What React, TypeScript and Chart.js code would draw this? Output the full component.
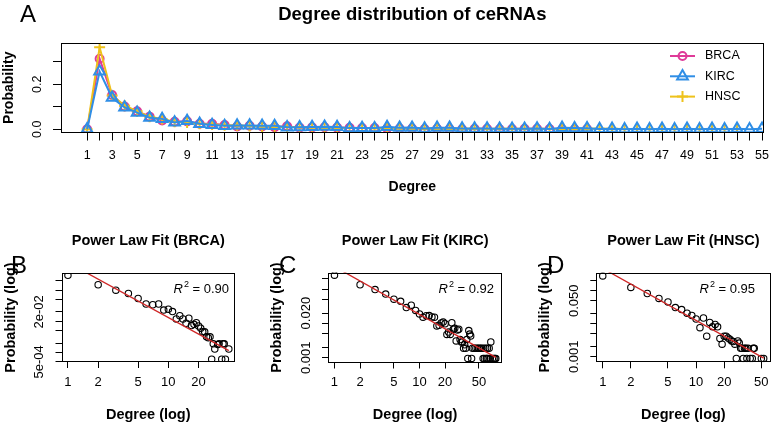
import { useEffect, useRef } from 'react';
import { Chart, registerables } from 'chart.js';

Chart.register(...registerables);

const FONT = '"Liberation Sans", Arial, Helvetica, sans-serif';
const CW = 777;
const CH = 425;

// ---------------- Panel A data ----------------
const seriesNames = ['BRCA', 'KIRC', 'HNSC'];
const degreesA = [1, 2, 3, 4, 5, 6, 7, 8, 9, 10, 11, 12, 13, 14, 15, 16, 17, 18, 19, 20, 21, 22, 23, 24, 25, 26, 27, 28, 29, 30, 31, 32, 33, 34, 35, 36, 37, 38, 39, 40, 41, 42, 43, 44, 45, 46, 47, 48, 49, 50, 51, 52, 53, 54, 55];
const brcaA = [
  0, 0.314, 0.152, 0.101, 0.080, 0.056, 0.039, 0.033, 0.035, 0.024,
  0.024, 0.019, 0.012, 0.015, 0.012, 0.009, 0.013, 0.007, 0.008, 0.009,
  0.007, 0.006, 0.005, 0.005, 0.003, 0.003, 0.003, 0.001, 0.002, 0.001,
  0, 0.002, 0.002, 0, 0.001, 0.002, 0.002, 0.001, 0, 0,
  0.001,
];
const kircA = [
  0, 0.257, 0.140, 0.097, 0.074, 0.051, 0.046, 0.030, 0.037, 0.024,
  0.019, 0.015, 0.017, 0.017, 0.0155, 0.015, 0.0085, 0.0088, 0.010, 0.011,
  0.0098, 0.0048, 0.0056, 0.0048, 0.0105, 0.0068, 0.0072, 0.003, 0.0065, 0.0068,
  0.0034, 0.0029, 0.0029, 0.0019, 0.0024, 0.0019, 0.0034, 0.001, 0.0062, 0.0049,
  0.0043, 0.001, 0.0019, 0, 0.0019, 0, 0.0019, 0, 0.0019, 0,
  0.0019, 0, 0.0019, 0, 0.0019,
];
const hnscA = [
  0, 0.365, 0.150, 0.105, 0.080, 0.055, 0.045, 0.033, 0.030, 0.024,
  0.021, 0.018, 0.016, 0.014, 0.012, 0.011, 0.010, 0.009, 0.008, 0.007,
  0.006, 0.005, 0.005, 0.004, 0.004, 0.003, 0.003, 0.002, 0.003, 0.002,
  0.002, 0.002, 0.001, 0.002, 0.002, 0.001, 0.002, 0.001, 0.001, 0.001,
  0.002, 0.002, 0.002, 0.001, 0.001, 0.001, 0.001, 0.001, 0.001, 0.001,
  0.001, 0.001, 0.001,
];
const yTicksA = [0, 0.1, 0.2, 0.3];
const yLabelsA = ['0.0', '', '0.2', ''];

// ---------------- Panels B-D data ----------------
const brcaDeg = [1, 2, 3, 4, 5, 6, 7, 8, 9, 10, 11, 12, 13, 14, 15, 16, 17, 18, 19, 20, 21, 22, 23, 24, 25, 26, 27, 28, 29, 31, 32, 34, 35, 36, 37, 40];
const brcaProb = [0.298, 0.149, 0.100, 0.078, 0.054, 0.036, 0.034, 0.036, 0.023, 0.0245, 0.0206, 0.0119, 0.0152, 0.0119, 0.0087, 0.0126, 0.0073, 0.0080, 0.0090, 0.0071, 0.0060, 0.0046, 0.0046, 0.0032, 0.0030, 0.0032, 0.00061, 0.0019, 0.0013, 0.0018, 0.0019, 0.00061, 0.0019, 0.0019, 0.00061, 0.0013];

const kircDeg = [1, 2, 3, 4, 5, 6, 7, 8, 9, 10, 11, 12, 13, 14, 15, 16, 17, 18, 19, 20, 21, 22, 23, 24, 25, 26, 27, 28, 29, 30, 31, 32, 33, 34, 35, 36, 37, 38, 39, 40, 41, 42, 44, 46, 48, 50, 52, 54, 56, 57, 58, 60, 61, 62, 63, 64, 66, 68, 69, 72, 75, 77, 79];
const kircProb = [0.255, 0.134, 0.097, 0.072, 0.051, 0.044, 0.029, 0.034, 0.024, 0.019, 0.0152, 0.0168, 0.017, 0.0155, 0.0152, 0.0085, 0.0088, 0.0104, 0.011, 0.0098, 0.0048, 0.0056, 0.0048, 0.0105, 0.0068, 0.0072, 0.0031, 0.0065, 0.0068, 0.0034, 0.0029, 0.0029, 0.0019, 0.0024, 0.0019, 0.0034, 0.00096, 0.0062, 0.0049, 0.0043, 0.00096, 0.0019, 0.0019, 0.0019, 0.0019, 0.0019, 0.0019, 0.0019, 0.00096, 0.0019, 0.00096, 0.0019, 0.00096, 0.00096, 0.0019, 0.00096, 0.0019, 0.00096, 0.0029, 0.00096, 0.00096, 0.00096, 0.00096];

const hnscDeg = [1, 2, 3, 4, 5, 6, 7, 8, 9, 10, 11, 12, 13, 14, 15, 16, 17, 18, 19, 20, 21, 22, 23, 24, 25, 26, 27, 28, 29, 30, 31, 32, 33, 34, 35, 36, 38, 40, 41, 42, 50, 53];
const hnscProb = [0.285, 0.127, 0.083, 0.059, 0.046, 0.031, 0.027, 0.021, 0.018, 0.014, 0.0076, 0.015, 0.0042, 0.011, 0.0081, 0.0095, 0.0081, 0.0036, 0.0024, 0.0042, 0.0042, 0.0037, 0.0034, 0.0030, 0.0029, 0.0024, 0.00089, 0.0030, 0.0026, 0.0018, 0.0018, 0.00089, 0.0018, 0.0018, 0.00089, 0.0018, 0.00089, 0.00089, 0.0018, 0.0018, 0.00089, 0.00089];

const fitBDeg = [1, 40];
const fitBProb = [0.764, 0.00115];
const fitCDeg = [1, 79];
const fitCProb = [0.453, 0.00103];
const fitDDeg = [1, 53];
const fitDProb = [0.48, 0.00091];
const r2Values = ['0.90', '0.92', '0.95'];

const logXTicksB = [1, 2, 5, 10, 20];
const logXTicksCD = [1, 2, 5, 10, 20, 50];
const logYTicksB = [5e-4, 1e-3, 2e-3, 5e-3, 1e-2, 2e-2, 5e-2, 1e-1, 2e-1];
const logYLabelsB = ['5e-04', '', '', '', '', '2e-02', '', '', ''];
const logYTicksCD = [1e-3, 2e-3, 5e-3, 1e-2, 2e-2, 5e-2, 1e-1, 2e-1];
const logYLabelsC = ['0.001', '', '', '', '0.020', '', '', ''];
const logYLabelsD = ['0.001', '', '', '', '', '0.050', '', ''];

const COL = { brca: '#DF3A98', kirc: '#2F8EE6', hnsc: '#EEC21B', fit: '#CF2626' };

type Box = { left: number; top: number; right: number; bottom: number };

function drawMarker(ctx: CanvasRenderingContext2D, style: string, x: number, y: number, r: number) {
  ctx.beginPath();
  if (style === 'circle') {
    ctx.arc(x, y, r, 0, Math.PI * 2);
  } else if (style === 'triangle') {
    ctx.moveTo(x, y - r);
    ctx.lineTo(x + r * Math.sin(Math.PI * 2 / 3), y + r / 2);
    ctx.lineTo(x - r * Math.sin(Math.PI * 2 / 3), y + r / 2);
    ctx.closePath();
  } else {
    ctx.moveTo(x - r, y);
    ctx.lineTo(x + r, y);
    ctx.moveTo(x, y - r);
    ctx.lineTo(x, y + r);
  }
  ctx.stroke();
}

function makeDeco(cfg: any) {
  return {
    id: 'deco' + cfg.key,
    afterDraw(chart: any) {
      const { ctx, chartArea: ca } = chart;
      const yScale = chart.scales.y;
      ctx.save();
      // plot box
      ctx.strokeStyle = '#000';
      ctx.lineWidth = 1;
      const l = Math.round(ca.left) + 0.5;
      const t = Math.round(ca.top) + 0.5;
      const r = Math.round(ca.right) - 0.5;
      const b = Math.round(ca.bottom) - 0.5;
      ctx.strokeRect(l, t, r - l, b - t);

      ctx.fillStyle = '#000';
      // rotated y tick labels
      ctx.font = `${cfg.tickSize}px ${FONT}`;
      ctx.textAlign = 'center';
      ctx.textBaseline = 'middle';
      cfg.yTicks.forEach((v: number, i: number) => {
        const lab = cfg.yLabels[i];
        if (!lab) return;
        const py = yScale.getPixelForValue(v);
        ctx.save();
        ctx.translate(ca.left - cfg.yLabelOffset, py);
        ctx.rotate(-Math.PI / 2);
        ctx.fillText(lab, 0, 0);
        ctx.restore();
      });

      // panel letter
      ctx.textAlign = 'left';
      ctx.textBaseline = 'alphabetic';
      ctx.font = `24px ${FONT}`;
      ctx.fillText(cfg.letter, cfg.letterX, cfg.letterY);

      // title
      ctx.textAlign = 'center';
      ctx.font = `bold ${cfg.titleSize}px ${FONT}`;
      ctx.fillText(cfg.title, (ca.left + ca.right) / 2, cfg.titleY);

      // x title
      ctx.font = `bold ${cfg.axisTitleSize}px ${FONT}`;
      ctx.fillText(cfg.xTitle, (ca.left + ca.right) / 2, cfg.xTitleY);

      // y title
      ctx.save();
      ctx.translate(ca.left - cfg.yTitleOffset, (ca.top + ca.bottom) / 2);
      ctx.rotate(-Math.PI / 2);
      ctx.textBaseline = 'middle';
      ctx.fillText(cfg.yTitle, 0, 0);
      ctx.restore();

      // R^2 annotation
      if (cfg.r2) {
        const fs = 13;
        ctx.textAlign = 'left';
        ctx.textBaseline = 'alphabetic';
        const fR = `italic ${fs}px ${FONT}`;
        const f2 = `${Math.round(fs * 0.7)}px ${FONT}`;
        const fN = `${fs}px ${FONT}`;
        const rest = ' = ' + cfg.r2;
        ctx.font = fR;
        const wR = ctx.measureText('R').width;
        ctx.font = f2;
        const w2 = ctx.measureText('2').width;
        ctx.font = fN;
        const wN = ctx.measureText(rest).width;
        let x = cfg.r2Right - (wR + w2 + 1 + wN);
        const y = cfg.r2Y;
        ctx.font = fR;
        ctx.fillText('R', x, y);
        x += wR + 1;
        ctx.font = f2;
        ctx.fillText('2', x, y - fs * 0.42);
        x += w2;
        ctx.font = fN;
        ctx.fillText(rest, x, y);
      }

      // legend (panel A)
      if (cfg.legend) {
        const lg = cfg.legend;
        chart.data.datasets.forEach((ds: any, i: number) => {
          const y = lg.y0 + i * lg.dy;
          ctx.strokeStyle = ds.borderColor;
          ctx.lineWidth = 2;
          ctx.beginPath();
          ctx.moveTo(lg.x0, y);
          ctx.lineTo(lg.x1, y);
          ctx.stroke();
          drawMarker(ctx, ds.pointStyle, (lg.x0 + lg.x1) / 2, y, ds.pointRadius);
          ctx.fillStyle = '#000';
          ctx.font = `${lg.size}px ${FONT}`;
          ctx.textAlign = 'left';
          ctx.textBaseline = 'middle';
          ctx.fillText(ds.label, lg.tx, y);
        });
      }
      ctx.restore();
    },
  };
}

function padFor(box: Box, yW: number, xH: number) {
  return { left: box.left - yW, top: box.top, right: CW - box.right, bottom: CH - box.bottom - xH };
}

function axisGrid(len: number) {
  return { drawOnChartArea: false, drawTicks: true, tickLength: len, color: '#000', lineWidth: 1 };
}

function makePanelA(canvas: HTMLCanvasElement) {
  const box: Box = { left: 61, top: 43, right: 769, bottom: 132.5 };
  const mk = (vals: number[]) => vals.map((v, i) => ({ x: degreesA[i], y: v }));
  const common = { borderWidth: 2, pointBorderWidth: 2, pointBackgroundColor: 'rgba(0,0,0,0)', backgroundColor: 'rgba(0,0,0,0)', fill: false, tension: 0, clip: 0 };
  return new Chart(canvas, {
    type: 'line',
    data: {
      datasets: [
        { ...common, label: seriesNames[0], data: mk(brcaA), borderColor: COL.brca, pointBorderColor: COL.brca, pointStyle: 'circle', pointRadius: 4, order: 3 },
        { ...common, label: seriesNames[1], data: mk(kircA), borderColor: COL.kirc, pointBorderColor: COL.kirc, pointStyle: 'triangle', pointRadius: 6.2, order: 1 },
        { ...common, label: seriesNames[2], data: mk(hnscA), borderColor: COL.hnsc, pointBorderColor: COL.hnsc, pointStyle: 'cross', pointRadius: 5.5, order: 2 },
      ] as any,
    },
    options: {
      responsive: false,
      animation: false,
      events: [],
      layout: { padding: padFor(box, 40, 30) },
      plugins: { legend: { display: false }, tooltip: { enabled: false } },
      scales: {
        x: {
          type: 'linear', min: -1.09, max: 55.13, bounds: 'data',
          afterBuildTicks: (s: any) => { s.ticks = degreesA.map((v) => ({ value: v })); },
          afterFit: (s: any) => { s.height = 30; },
          ticks: { autoSkip: false, maxRotation: 0, minRotation: 0, padding: 8, color: '#000', font: { family: FONT, size: 12.5 }, callback: (v: any) => (Number(v) % 2 === 1 ? String(v) : '') },
          grid: axisGrid(8),
          border: { display: false },
        },
        y: {
          type: 'linear', min: -0.0147, max: 0.384, bounds: 'data',
          afterBuildTicks: (s: any) => { s.ticks = yTicksA.map((v) => ({ value: v })); },
          afterFit: (s: any) => { s.width = 40; },
          ticks: { display: false },
          grid: axisGrid(8),
          border: { display: false },
        },
      },
    } as any,
    plugins: [makeDeco({
      key: 'A', letter: 'A', letterX: 20, letterY: 22,
      title: 'Degree distribution of ceRNAs', titleSize: 18.5, titleY: 19.5,
      xTitle: 'Degree', xTitleY: 191, yTitle: 'Probability', yTitleOffset: 51.5, axisTitleSize: 14,
      tickSize: 12.5, yTicks: yTicksA, yLabels: yLabelsA, yLabelOffset: 23,
      legend: { x0: 670, x1: 695, tx: 705, y0: 56, dy: 20.3, size: 12.5 },
    })],
  });
}

const logPanels = [
  { key: 'B', name: seriesNames[0], deg: brcaDeg, prob: brcaProb, fitDeg: fitBDeg, fitProb: fitBProb, r2: r2Values[0], box: { left: 61.5, top: 273, right: 235, bottom: 362 }, xRange: [0.863, 46.1], yRange: [4.97e-4, 0.355], xTicks: logXTicksB, yTicks: logYTicksB, yLabels: logYLabelsB, letterX: 11, r2Right: 229 },
  { key: 'C', name: seriesNames[1], deg: kircDeg, prob: kircProb, fitDeg: fitCDeg, fitProb: fitCProb, r2: r2Values[1], box: { left: 328, top: 272.5, right: 502.3, bottom: 362.5 }, xRange: [0.839, 94.2], yRange: [7.3e-4, 0.305], xTicks: logXTicksCD, yTicks: logYTicksCD, yLabels: logYLabelsC, letterX: 279, r2Right: 494 },
  { key: 'D', name: seriesNames[2], deg: hnscDeg, prob: hnscProb, fitDeg: fitDDeg, fitProb: fitDProb, r2: r2Values[2], box: { left: 596.3, top: 272.5, right: 770.5, bottom: 362.3 }, xRange: [0.853, 62.7], yRange: [6.77e-4, 0.361], xTicks: logXTicksCD, yTicks: logYTicksCD, yLabels: logYLabelsD, letterX: 547, r2Right: 755 },
];

function makeLogPanel(canvas: HTMLCanvasElement, p: any) {
  return new Chart(canvas, {
    type: 'scatter',
    data: {
      datasets: [
        { label: 'fit', data: p.fitDeg.map((d: number, i: number) => ({ x: d, y: p.fitProb[i] })), showLine: true, borderColor: COL.fit, borderWidth: 1.3, pointRadius: 0, clip: 0, order: 1 },
        { label: p.name, data: p.deg.map((d: number, i: number) => ({ x: d, y: p.prob[i] })), showLine: false, pointStyle: 'circle', pointRadius: 3.2, pointBorderWidth: 1.1, pointBorderColor: '#000', pointBackgroundColor: 'rgba(0,0,0,0)', borderColor: '#000', order: 2 },
      ] as any,
    },
    options: {
      responsive: false,
      animation: false,
      events: [],
      layout: { padding: padFor(p.box, 40, 30) },
      plugins: { legend: { display: false }, tooltip: { enabled: false } },
      scales: {
        x: {
          type: 'logarithmic', min: p.xRange[0], max: p.xRange[1], bounds: 'data',
          afterBuildTicks: (s: any) => { s.ticks = p.xTicks.map((v: number) => ({ value: v })); },
          afterFit: (s: any) => { s.height = 30; },
          ticks: { autoSkip: false, maxRotation: 0, minRotation: 0, padding: 6.2, color: '#000', font: { family: FONT, size: 13 }, callback: (v: any) => String(v) },
          grid: axisGrid(6),
          border: { display: false },
        },
        y: {
          type: 'logarithmic', min: p.yRange[0], max: p.yRange[1], bounds: 'data',
          afterBuildTicks: (s: any) => { s.ticks = p.yTicks.map((v: number) => ({ value: v })); },
          afterFit: (s: any) => { s.width = 40; },
          ticks: { display: false },
          grid: axisGrid(6),
          border: { display: false },
        },
      },
    } as any,
    plugins: [makeDeco({
      key: p.key, letter: p.key, letterX: p.letterX, letterY: 273,
      title: `Power Law Fit (${p.name})`, titleSize: 14.5, titleY: 245,
      xTitle: 'Degree (log)', xTitleY: 419, yTitle: 'Probability (log)', yTitleOffset: 51, axisTitleSize: 14.5,
      tickSize: 13, yTicks: p.yTicks, yLabels: p.yLabels, yLabelOffset: 22,
      r2: p.r2, r2Right: p.r2Right, r2Y: 292.5,
    })],
  });
}

function ChartCanvas({ make }: { make: (c: HTMLCanvasElement) => Chart }) {
  const ref = useRef<HTMLCanvasElement>(null);
  useEffect(() => {
    const chart = make(ref.current as HTMLCanvasElement);
    return () => chart.destroy();
  }, []);
  return <canvas ref={ref} width={CW} height={CH} style={{ position: 'absolute', left: 0, top: 0, width: CW, height: CH }} />;
}

export default function App() {
  return (
    <div style={{ position: 'absolute', left: 0, top: 0, width: CW, height: CH, background: '#fff' }}>
      <ChartCanvas make={makePanelA} />
      {logPanels.map((p) => (
        <ChartCanvas key={p.key} make={(c) => makeLogPanel(c, p)} />
      ))}
    </div>
  );
}
